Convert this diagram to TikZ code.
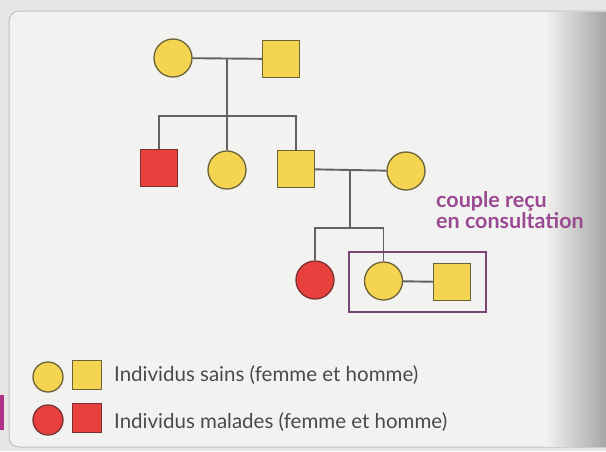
\documentclass[tikz,border=0pt]{standalone}
\usepackage{fontspec}
\setmainfont{Lato}
\usetikzlibrary{calc}
\definecolor{bgout}{HTML}{E6E6E4}
\definecolor{panel}{HTML}{F2F2F0}
\definecolor{yel}{HTML}{F5D452}
\definecolor{yelline}{HTML}{6B6238}
\definecolor{redf}{HTML}{E8413D}
\definecolor{redline}{HTML}{7A3030}
\definecolor{linkc}{HTML}{626262}
\definecolor{purp}{HTML}{7A4474}
\definecolor{purptext}{HTML}{9A4A92}
\definecolor{txt}{HTML}{4A4A4A}
\definecolor{magbar}{HTML}{B0308A}
\tikzset{
  fem/.style={circle, draw=yelline, fill=yel, line width=1.3pt, minimum size=38pt, inner sep=0pt},
  hom/.style={rectangle, draw=yelline, fill=yel, line width=1.3pt, minimum size=37pt, inner sep=0pt},
  femill/.style={fem, draw=redline, fill=redf},
  homill/.style={hom, draw=redline, fill=redf},
  lfem/.style={fem, minimum size=30pt},
  lhom/.style={hom, minimum size=29pt},
  lfemill/.style={femill, minimum size=30pt},
  lhomill/.style={homill, minimum size=29pt},
  link/.style={draw=linkc, line width=1.9pt},
  legtext/.style={anchor=base west, text=txt, font=\fontsize{20.5}{24}\selectfont, inner sep=0pt},
}
\begin{document}
\begin{tikzpicture}[x=1pt,y=-1pt]
\fill[bgout] (0,0) rectangle (606,451);
\useasboundingbox (0,0) rectangle (606,451);
\draw[line width=1pt, draw=black!25, fill=panel, rounded corners=10pt] (9,11) rectangle (640,447);
\shade[left color=panel, right color=black!35, draw=none] (545,12) rectangle (606,446);
\fill[magbar] (0,395) rectangle (4,430);

% generation I
\node[fem] (I1) at (173,58) {};
\node[hom] (I2) at (281,59) {};
% generation II
\node[homill] (II1) at (159,168) {};
\node[fem] (II2) at (227,170) {};
\node[hom] (II3) at (296,169) {};
\node[fem] (II4) at (406,171) {};
% generation III
\node[femill] (III1) at (315,280) {};
\node[fem] (III2) at (383.5,281) {};
\node[hom] (III3) at (452,282) {};

\coordinate (m1) at (227,58);
\coordinate (s1) at (227,116);
\coordinate (m2) at (350,171);
\coordinate (s2) at (350,228);

\draw[link] (I1) -- (I2);
\draw[link] (m1) -- (II2.north);
\draw[link] (II1.north) -- (II1.north |- s1) -- (II3.north |- s1) -- (II3.north);
\draw[link] (II3) -- (II4);
\draw[link] (m2) -- (s2);
\draw[link] (III1.north) -- (III1.north |- s2) -- (III2.north |- s2) -- (III2.north);
\draw[link] (III2) -- (III3);

\node[draw=purp, line width=1.8pt, minimum width=137pt, minimum height=60pt, inner sep=0pt] (box) at (417.5,282) {};
\node[anchor=base west, text=purptext, font=\bfseries\fontsize{21.5}{17}\selectfont, align=left, inner sep=0pt] (lab) at (436,228) {couple reçu\\en consultation};

% legend
\node[lfem] (L1) at (48,377) {};
\node[lhom] (L2) at (87,375) {};
\node[lfemill] (L3) at (48,420) {};
\node[lhomill] (L4) at (87,418) {};
\node[legtext] (T1) at (114,381) {Individus sains (femme et homme)};
\node[legtext] (T2) at (114,428) {Individus malades (femme et homme)};
\end{tikzpicture}
\end{document}
